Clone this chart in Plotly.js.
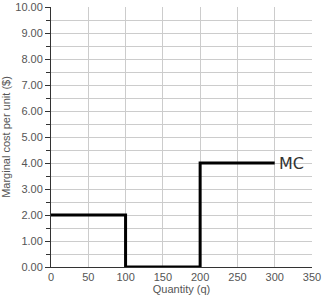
<!DOCTYPE html>
<html>
<head>
<meta charset="utf-8">
<script src="https://cdn.plot.ly/plotly-3.0.1.min.js"></script>
<style>html,body{margin:0;padding:0;background:#fff;}#chart{width:324px;height:301px;}</style>
</head>
<body>
<div id="chart"></div>
<script>
const quantity = [0, 100, 100, 200, 200, 300];
const marginalCost = [2, 2, 0, 0, 4, 4];
const curveLabel = "MC";
const xTicks = [0, 50, 100, 150, 200, 250, 300, 350];
const yTicks = [0, 1, 2, 3, 4, 5, 6, 7, 8, 9, 10];

const trace = {
  x: quantity, y: marginalCost, mode: 'lines', type: 'scatter',
  line: {color: '#000', width: 3}, hoverinfo: 'skip', showlegend: false
};
const tickFont = {family: 'Liberation Sans, Arial, sans-serif', size: 11, color: '#555'};
const layout = {
  width: 324, height: 301,
  margin: {l: 51, r: 12, t: 7, b: 34},
  paper_bgcolor: '#fff', plot_bgcolor: '#fff',
  xaxis: {
    range: [0, 350], tickvals: xTicks, ticktext: xTicks.map(String),
    showgrid: true, gridcolor: '#ccc', gridwidth: 1,
    showline: true, linecolor: '#333', linewidth: 1,
    ticks: '', zeroline: false, tickfont: tickFont,
    title: {text: 'Quantity (q)', font: {family: 'Liberation Sans, Arial, sans-serif', size: 11, color: '#555'}, standoff: 3}
  },
  yaxis: {
    range: [0, 10], tickvals: yTicks, ticktext: yTicks.map(v => v.toFixed(2)),
    showgrid: true, gridcolor: '#ccc', gridwidth: 1,
    showline: true, linecolor: '#333', linewidth: 1,
    ticks: 'outside', ticklen: 5, tickcolor: '#333', zeroline: false, tickfont: tickFont,
    minor: {dtick: 0.5, tick0: 0, showgrid: true, gridcolor: '#ccc', ticks: 'outside', ticklen: 4, tickcolor: '#333'},
    title: {text: 'Marginal cost per unit ($)', font: {family: 'Liberation Sans, Arial, sans-serif', size: 11, color: '#555'}, standoff: 4}
  },
  annotations: [{
    x: quantity[quantity.length - 1], y: marginalCost[marginalCost.length - 1],
    text: curveLabel, showarrow: false, xanchor: 'left', yanchor: 'middle', xshift: 2,
    font: {family: 'DejaVu Sans, sans-serif', size: 16, color: '#333'}
  }]
};
Plotly.newPlot('chart', [trace], layout, {displayModeBar: false, staticPlot: true});
</script>
</body>
</html>
